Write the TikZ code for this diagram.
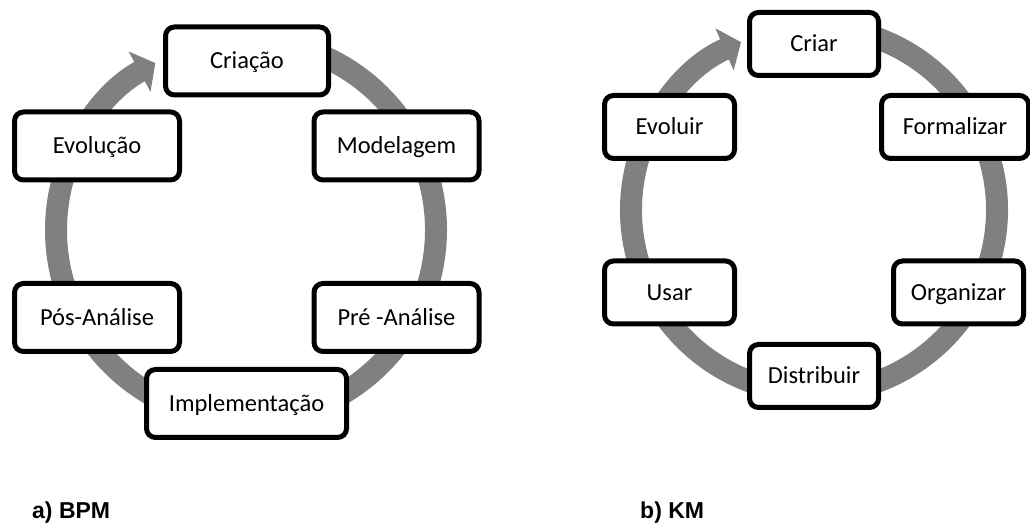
\documentclass[tikz,border=0pt]{standalone}
\usepackage{fontspec}
\setmainfont{Carlito}
\newfontfamily\labelfont{Liberation Sans}
\usetikzlibrary{arrows.meta}
\definecolor{ringgray}{RGB}{128,128,128}
\begin{document}
\begin{tikzpicture}[x=1pt,y=1pt,
  stage/.style={draw=black, line width=5pt, rounded corners=9pt, fill=white,
    font=\fontsize{24.5}{28}\selectfont, inner sep=0pt, minimum height=68pt,
    text height=17pt, text depth=1pt},
  ring/.style={draw=ringgray, line width=22pt, -{Triangle[width=45pt,length=18pt]}},
  caption/.style={font=\labelfont\bfseries\fontsize{23}{27}\selectfont,
    anchor=base west, inner sep=0pt}]
\useasboundingbox (0,0) rectangle (1030,527);

% ---- BPM life cycle ----
\draw[ring] (246,297) ++(85:190) arc[start angle=85, end angle=-241.5, radius=190];
\node[stage, minimum width=163pt] (criacao)  at (247,466)   {Criação};
\node[stage, minimum width=165pt] (model)    at (396.5,381) {Modelagem};
\node[stage, minimum width=165pt] (preana)   at (396.5,209.5) {Pré -Análise};
\node[stage, minimum width=200pt] (impl)     at (246.5,123.5) {Implementação};
\node[stage, minimum width=165pt] (posana)   at (97,209.5)  {Pós-Análise};
\node[stage, minimum width=165pt] (evolucao) at (97,381)    {Evolução};
\node[caption] (lblA) at (32,9) {a) BPM};

% ---- KM life cycle ----
\draw[ring] (814,317) ++(80:183) arc[start angle=80, end angle=-246.5, radius=183];
\node[stage, minimum width=129pt, minimum height=63pt] (criar)   at (814,483)   {Criar};
\node[stage, minimum width=147pt, minimum height=63pt] (formal)  at (955,400)   {Formalizar};
\node[stage, minimum width=130pt, minimum height=63pt] (organ)   at (958.5,234.5) {Organizar};
\node[stage, minimum width=129pt, minimum height=63pt] (distr)   at (814,151)   {Distribuir};
\node[stage, minimum width=130pt, minimum height=63pt] (usar)    at (669.5,234.5) {Usar};
\node[stage, minimum width=130pt, minimum height=63pt] (evoluir) at (669.5,400) {Evoluir};
\node[caption] (lblB) at (640,9) {b) KM};
\end{tikzpicture}
\end{document}
